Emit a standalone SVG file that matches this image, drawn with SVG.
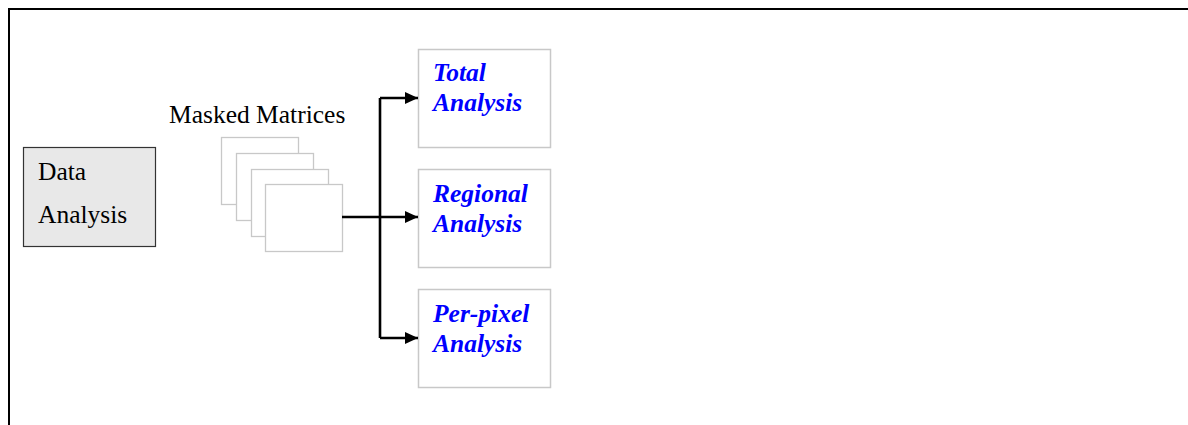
<svg xmlns="http://www.w3.org/2000/svg" width="1188" height="425" viewBox="0 0 1188 425">
<style>
.frame{fill:none;stroke:#000;stroke-width:2}
.sheet{fill:#fff;stroke:#c8c8c8;stroke-width:1.3}
.out{fill:#fff;stroke:#c8c8c8;stroke-width:1.5}
.t{font-family:"Liberation Serif","Times New Roman",serif;font-size:25.5px;fill:#000}
.b{font-family:"Liberation Serif","Times New Roman",serif;font-size:25.5px;font-weight:bold;font-style:italic;fill:#0000ff}
.conn{fill:none;stroke:#000;stroke-width:2.6}
</style>
<defs>
<marker id="ah" markerWidth="13" markerHeight="12" refX="13" refY="6" orient="auto" markerUnits="userSpaceOnUse">
<path d="M0,0 L13,6 L0,12 Z" fill="#000"/>
</marker>
</defs>
<rect width="1188" height="425" fill="#fff"/>
<path class="frame" d="M9,425 V9 H1188"/>
<g id="data-analysis">
<rect x="23.5" y="147.5" width="132" height="99" fill="#e8e8e8" stroke="#333" stroke-width="1.2"/>
<text class="t" x="38" y="180">Data</text>
<text class="t" x="38" y="223">Analysis</text>
</g>
<g id="masked-matrices">
<text class="t" x="169" y="123">Masked Matrices</text>
<rect class="sheet" x="221.5" y="137.5" width="77" height="67"/>
<rect class="sheet" x="236.5" y="153.5" width="77" height="67"/>
<rect class="sheet" x="251.5" y="169.5" width="77" height="67"/>
<rect class="sheet" x="265.5" y="184.5" width="77" height="67"/>
</g>
<g id="total-analysis">
<rect class="out" x="418.5" y="49.5" width="132" height="98"/>
<text class="b" x="433" y="81">Total</text>
<text class="b" x="433" y="111">Analysis</text>
</g>
<g id="regional-analysis">
<rect class="out" x="418.5" y="169.5" width="132" height="98"/>
<text class="b" x="433" y="202">Regional</text>
<text class="b" x="433" y="232">Analysis</text>
</g>
<g id="per-pixel-analysis">
<rect class="out" x="418.5" y="289.5" width="132" height="98"/>
<text class="b" x="433" y="322">Per-pixel</text>
<text class="b" x="433" y="352">Analysis</text>
</g>
<g id="connectors">
<path class="conn" d="M342,217 H380"/>
<path class="conn" d="M380,98 V338"/>
<path class="conn" d="M380,98 H418" marker-end="url(#ah)"/>
<path class="conn" d="M380,217 H418" marker-end="url(#ah)"/>
<path class="conn" d="M380,338 H418" marker-end="url(#ah)"/>
</g>
</svg>
